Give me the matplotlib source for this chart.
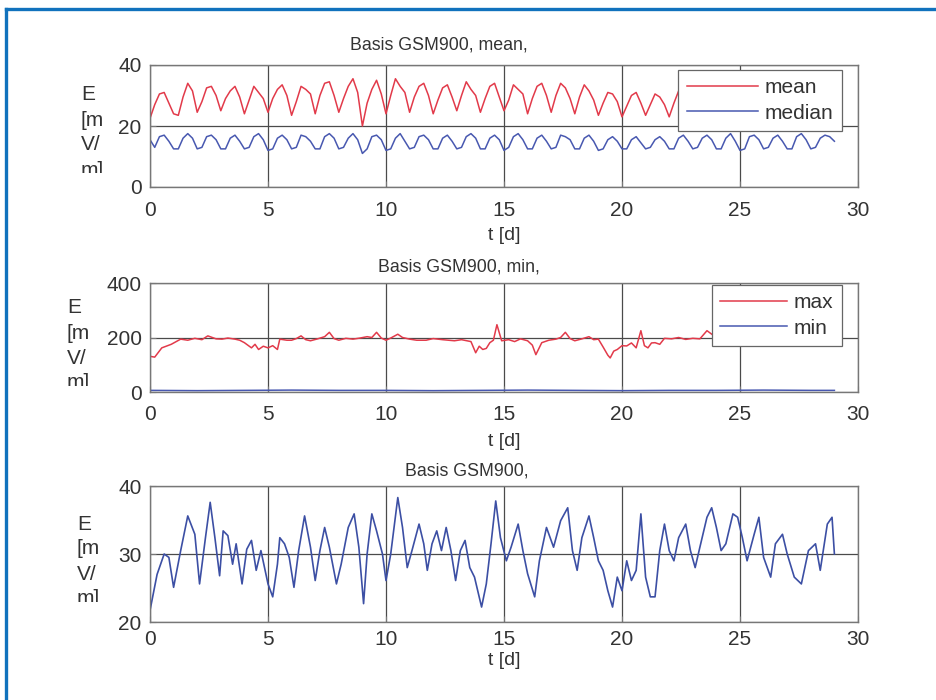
import numpy as np
import matplotlib.pyplot as plt
from matplotlib.lines import Line2D
from matplotlib.patches import Rectangle

plt.rcParams['font.family'] = ['Liberation Sans', 'DejaVu Sans']

# --- data ----------------------------------------------------------------
# top panel: daily mean / median, 5 samples per day (0.2 d step), t = 0 .. 29
t_day = np.linspace(0, 29, 146)
e_mean = [
    22.5, 27.0, 30.5, 31.0, 27.5,
    24.0, 23.5, 29.5, 34.0, 31.5,
    24.5, 28.0, 32.5, 33.0, 30.0,
    25.0, 29.0, 31.5, 33.0, 29.5,
    24.0, 28.5, 33.0, 31.0, 29.0,
    24.5, 29.0, 32.0, 33.5, 30.0,
    23.5, 28.0, 33.0, 32.0, 30.5,
    24.0, 30.0, 34.0, 34.5, 30.0,
    24.5, 29.0, 33.0, 35.5, 31.0,
    20.0, 27.5, 32.0, 35.0, 30.5,
    24.0, 30.0, 35.5, 33.0, 31.0,
    24.5, 29.5, 33.0, 34.0, 30.0,
    24.0, 28.5, 32.5, 33.5, 29.5,
    25.0, 30.0, 34.5, 32.0, 30.0,
    24.5, 29.0, 33.0, 34.0, 29.5,
    25.0, 28.5, 33.5, 32.0, 30.5,
    24.0, 29.0, 33.0, 34.0, 30.0,
    24.5, 30.0, 34.0, 32.5, 29.0,
    24.0, 29.5, 33.5, 31.5, 28.5,
    23.5, 27.5, 31.0, 30.5, 28.0,
    23.0, 26.5, 30.0, 31.0, 27.5,
    23.5, 27.0, 30.5, 29.5, 27.0,
    23.0, 27.5, 31.5, 30.0, 27.5,
    23.5, 28.0, 31.0, 30.5, 28.0,
    24.0, 28.5, 32.0, 31.0, 28.5,
    23.5, 28.0, 31.5, 31.0, 28.0,
    24.0, 29.0, 32.5, 31.5, 28.5,
    23.5, 28.0, 31.0, 30.5, 28.0,
    24.0, 28.5, 32.0, 31.0, 29.0,
    25.0,
]
e_median = [
    15.5, 13.0, 16.5, 17.0, 15.0,
    12.5, 12.5, 16.0, 17.5, 16.0,
    12.5, 13.0, 16.5, 17.0, 15.5,
    12.5, 12.5, 16.0, 17.0, 15.0,
    12.5, 13.0, 16.5, 17.5, 15.5,
    12.0, 12.5, 16.0, 17.0, 15.5,
    12.5, 13.0, 17.0, 16.5, 15.0,
    12.5, 12.5, 16.5, 17.5, 16.0,
    12.5, 13.0, 16.0, 17.5, 15.5,
    11.0, 12.5, 16.5, 17.0, 15.5,
    12.0, 12.5, 16.0, 17.5, 15.0,
    12.5, 13.0, 16.5, 17.0, 15.5,
    12.5, 12.5, 16.0, 17.0, 15.0,
    12.5, 13.0, 16.5, 17.5, 16.0,
    12.5, 12.5, 16.0, 17.0, 15.5,
    12.0, 13.0, 16.5, 17.5, 15.5,
    12.5, 12.5, 16.0, 17.0, 15.0,
    12.5, 13.0, 17.0, 16.5, 15.5,
    12.5, 12.5, 16.0, 17.0, 15.0,
    12.0, 12.5, 15.5, 16.5, 15.0,
    12.5, 12.5, 15.5, 16.5, 14.5,
    12.5, 13.0, 15.5, 16.5, 15.0,
    12.5, 12.5, 16.0, 17.0, 15.0,
    12.5, 13.0, 16.0, 17.0, 15.5,
    12.5, 12.5, 16.0, 17.5, 15.0,
    12.0, 12.5, 16.5, 17.0, 15.5,
    12.5, 13.0, 16.0, 17.0, 15.0,
    12.5, 12.5, 16.5, 17.5, 15.5,
    12.5, 13.0, 16.0, 17.0, 16.5,
    15.0,
]

# middle panel: max and min
t_max = [0.0, 0.2, 0.5, 0.9, 1.3, 1.6, 1.9, 2.2, 2.45, 2.8, 3.05, 3.3, 3.6, 3.8,
         4.0, 4.3, 4.45, 4.6, 4.8, 5.0, 5.2, 5.4, 5.5, 5.8, 6.0, 6.2, 6.4, 6.6,
         6.8, 7.1, 7.4, 7.6, 7.8, 8.0, 8.3, 8.6, 8.9, 9.2, 9.4, 9.6, 9.8, 10.0,
         10.2, 10.5, 10.7, 11.0, 11.3, 11.7, 12.0, 12.4, 12.9, 13.2, 13.6, 13.8,
         13.95, 14.1, 14.25, 14.4, 14.55, 14.7, 14.9, 15.2, 15.45, 15.7, 16.0,
         16.2, 16.35, 16.6, 16.9, 17.2, 17.4, 17.6, 17.8, 18.0, 18.3, 18.6, 18.8,
         19.0, 19.2, 19.4, 19.5, 19.65, 19.8, 20.0, 20.2, 20.4, 20.6, 20.8, 20.95,
         21.1, 21.25, 21.4, 21.6, 21.8, 22.1, 22.4, 22.7, 23.0, 23.3, 23.6, 23.9,
         24.3, 24.8, 25.3, 25.8, 26.3, 26.8, 27.3, 27.8, 28.3, 28.9]
e_max = [131, 128, 162, 175, 194, 190, 197, 192, 206, 195, 194, 198, 194, 190,
         181, 162, 175, 156, 168, 162, 170, 156, 194, 190, 190, 196, 206, 192,
         188, 195, 203, 219, 196, 190, 197, 194, 198, 203, 200, 219, 198, 190,
         198, 212, 200, 194, 190, 190, 196, 192, 188, 192, 185, 144,
         168, 156, 160, 181, 190, 247, 188, 192, 185, 195, 188,
         172, 137, 181, 190, 194, 200, 219, 196, 188, 195, 203, 192,
         194, 165, 135, 125, 150, 156, 170, 169, 180, 162, 225, 170,
         162, 180, 181, 175, 197, 195, 200, 193, 197, 195, 225, 206,
         195, 198, 194, 200, 196, 198, 195, 199, 196, 197]
t_min = [0, 2, 4, 6, 8, 10, 12, 14, 16, 18, 20, 22, 24, 26, 28, 29]
e_min = [6, 5, 6, 7, 6, 6, 5, 6, 7, 6, 5, 6, 6, 7, 6, 6]

# bottom panel
t_e = [0.0, 0.3, 0.6, 0.8, 1.0, 1.3, 1.6, 1.9, 2.1, 2.35, 2.55, 2.75, 2.95, 3.1,
       3.3, 3.5, 3.65, 3.9, 4.1, 4.3, 4.5, 4.7, 5.0, 5.2, 5.4, 5.5, 5.7, 5.9,
       6.1, 6.3, 6.55, 6.8, 7.0, 7.2, 7.4, 7.6, 7.9, 8.1, 8.4, 8.65, 8.85, 9.05,
       9.2, 9.4, 9.6, 9.85, 10.0, 10.2, 10.5, 10.7, 10.9, 11.1, 11.4, 11.6,
       11.75, 11.95, 12.15, 12.35, 12.55, 12.75, 12.95, 13.15, 13.35, 13.55,
       13.75, 14.05, 14.25, 14.45, 14.65, 14.85, 15.1, 15.3, 15.6, 15.8, 16.0,
       16.3, 16.5, 16.8, 17.1, 17.4, 17.7, 17.9, 18.1, 18.3, 18.6, 18.8, 19.0,
       19.2, 19.4, 19.6, 19.8, 20.0, 20.2, 20.4, 20.6, 20.8, 21.0, 21.2, 21.4,
       21.6, 21.8, 22.0, 22.2, 22.4, 22.7, 22.9, 23.1, 23.3, 23.6, 23.8, 24.0,
       24.2, 24.4, 24.7, 24.9, 25.1, 25.3, 25.6, 25.8, 26.0, 26.3, 26.5, 26.8,
       27.0, 27.3, 27.6, 27.9, 28.2, 28.4, 28.7, 28.9, 29.0]
e_e = [21.7, 27.0, 30.0, 29.5, 25.1, 30.5, 35.6, 32.9, 25.6, 32.4, 37.6, 32.4,
       26.8, 33.4, 32.7, 28.5, 31.5, 25.6, 30.7, 32.0, 27.6, 30.5, 25.6, 23.7,
       28.5, 32.4, 31.5, 29.5, 25.1, 30.5, 35.6, 31.0, 26.1, 30.5, 33.9, 31.0,
       25.6, 28.5, 33.9, 35.9, 31.0, 22.7, 30.0, 35.9, 33.4, 30.0, 26.1, 30.0,
       38.3, 33.9, 28.0, 30.5, 34.4, 31.5, 27.6, 31.5, 33.4, 30.5, 33.9, 30.5,
       26.1, 30.5, 32.0, 28.0, 26.6, 22.2, 25.6, 31.5, 37.8, 32.4, 29.0, 31.0,
       34.4, 30.5, 27.1, 23.7, 29.0, 33.9, 31.0, 34.9, 36.8, 30.5, 27.6, 32.4,
       35.6, 32.4, 29.0, 27.6, 24.6, 22.2, 26.6, 24.6, 29.0, 26.1, 27.6, 35.9,
       26.6, 23.7, 23.7, 30.5, 34.4, 30.5, 29.0, 32.4, 34.4, 30.5, 28.0, 31.0,
       35.4, 36.8, 33.9, 30.5, 31.5, 35.9, 35.4, 32.4, 29.0, 32.9, 35.4, 29.5,
       26.6, 31.5, 32.9, 30.0, 26.6, 25.6, 30.5, 31.5, 27.6, 34.4, 35.4, 30.0]

x_ticks = [0, 5, 10, 15, 20, 25, 30]
ylabel_lines = ['E', '[m', 'V/', 'm]']

W, H = 937, 700
fig = plt.figure(figsize=(W / 100, H / 100), dpi=100)


def rect(x0, y0, x1, y1):
    return [x0 / W, 1 - y1 / H, (x1 - x0) / W, (y1 - y0) / H]


red = '#e23a4a'
blue = '#4858b0'
grid_c = '#4a4a4a'
box_c = '#777777'
txt_c = '#333333'


def style(ax, yticks, tpad, lpad):
    ax.set_xlim(0, 30)
    ax.set_ylim(yticks[0], yticks[-1])
    ax.set_xticks(x_ticks)
    ax.set_yticks(yticks)
    ax.grid(True, color=grid_c, lw=0.9)
    ax.set_axisbelow(True)
    for s in ax.spines.values():
        s.set_color(box_c)
        s.set_linewidth(1.0)
    ax.tick_params(direction='in', length=4, color=box_c, labelsize=15,
                   labelcolor=txt_c, pad=6)
    ax.tick_params(axis='x', pad=tpad)
    ax.set_xlabel('t [d]', fontsize=14, color=txt_c, labelpad=lpad)


def ylab(x, yfirst):
    # wrapped "E [mV/m]" label, 25 px per line; the last line is cut half way
    for i, s in enumerate(ylabel_lines):
        fig.text(x / W, 1 - (yfirst + 25 * i) / H, s, ha='left', va='center',
                 fontsize=15, color=txt_c, zorder=3)
    ycut = yfirst + 75 + 3
    fig.add_artist(Rectangle((x / W - 0.01, 1 - (ycut + 22) / H), 45 / W, 22 / H,
                             transform=fig.transFigure, facecolor='white',
                             edgecolor='none', zorder=5))


def legend(ax, ytop, hl):
    lg = ax.legend(loc='upper right', bbox_to_anchor=(842 / W, 1 - ytop / H),
                   bbox_transform=fig.transFigure, borderaxespad=0,
                   fontsize=15, handlelength=hl, handletextpad=0.35,
                   labelspacing=0.3, borderpad=0.4, fancybox=False,
                   framealpha=1, edgecolor='#666666')
    lg.get_frame().set_linewidth(0.9)
    for txt in lg.get_texts():
        txt.set_color(txt_c)


# top
ax1 = fig.add_axes(rect(150, 65, 858, 187))
ax1.plot(t_day, e_mean, color=red, lw=1.1, label='mean')
ax1.plot(t_day, e_median, color=blue, lw=1.1, label='median')
style(ax1, [0, 20, 40], 10, 5)
legend(ax1, 70, 3.4)
fig.text(350 / W, 1 - 49 / H, 'Basis GSM900, mean,', fontsize=12.8,
         color=txt_c, va='baseline')
ylab(81, 95)

# middle
ax2 = fig.add_axes(rect(150, 283, 858, 392))
ax2.plot(t_max, e_max, color=red, lw=1.1, label='max')
ax2.plot(t_min, e_min, color=blue, lw=1.1, label='min')
style(ax2, [0, 200, 400], 9, 7)
legend(ax2, 285, 3.2)
fig.text(378 / W, 1 - 271 / H, 'Basis GSM900, min,', fontsize=12.8,
         color=txt_c, va='baseline')
ylab(67, 308)

# bottom
ax3 = fig.add_axes(rect(150, 486, 858, 622))
ax3.plot(t_e, e_e, color='#3c4fa4', lw=1.2)
style(ax3, [20, 30, 40], 6, 2)
fig.text(405 / W, 1 - 475 / H, 'Basis GSM900,', fontsize=12.8,
         color=txt_c, va='baseline')
ylab(77, 524)

# blue frame (top and left edge only are in view)
frame_c = '#1172bd'
fig.add_artist(Line2D([6 / W, 6 / W], [0, 1 - 9 / H], color=frame_c, lw=2.4))
fig.add_artist(Line2D([6 / W, 1], [1 - 9 / H, 1 - 9 / H], color=frame_c, lw=2.4))

fig.savefig('out.png', dpi=100)
